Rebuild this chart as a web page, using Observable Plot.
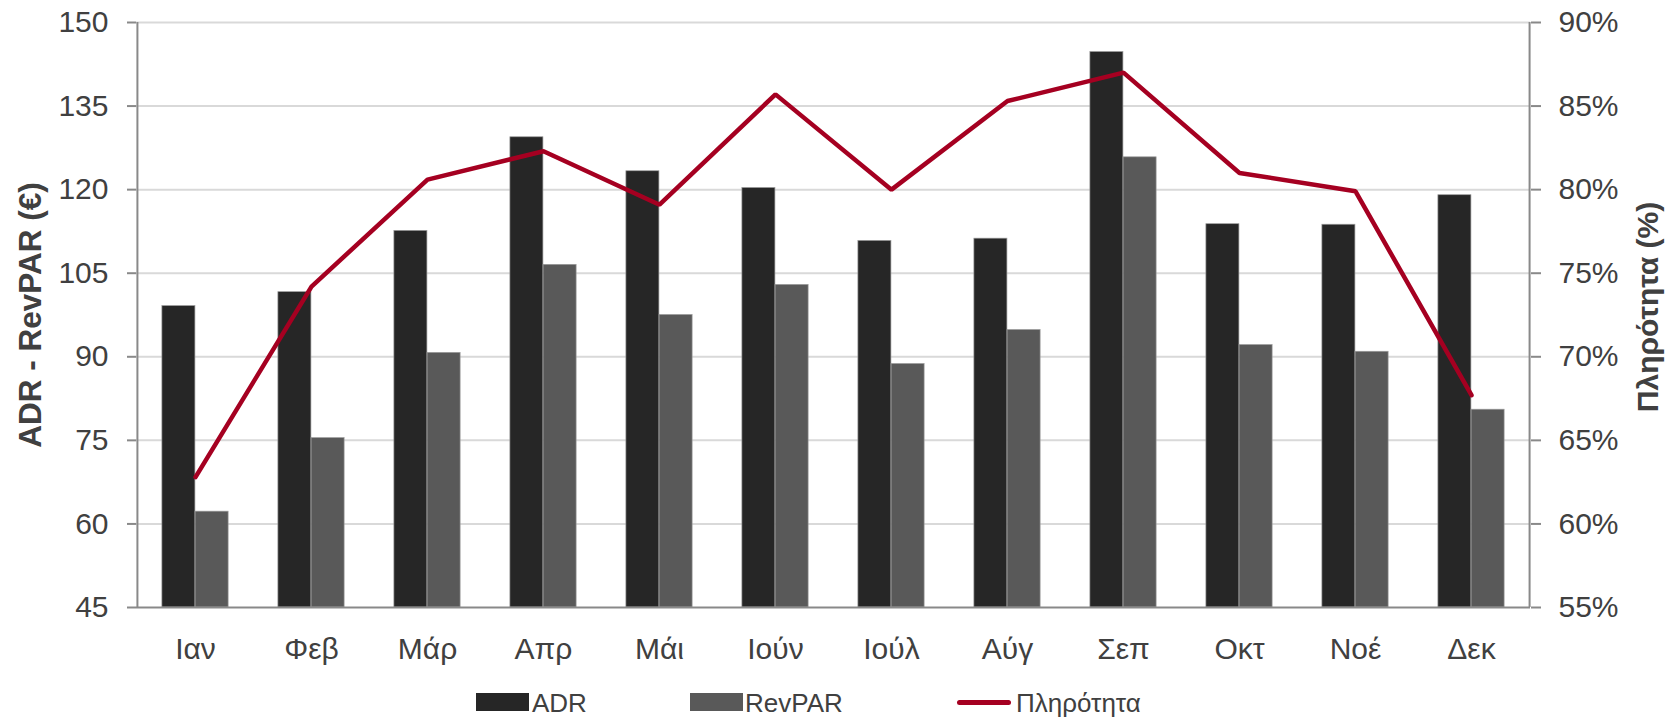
<!DOCTYPE html>
<html>
<head>
<meta charset="utf-8">
<script src="https://cdn.jsdelivr.net/npm/d3@7"></script>
<script src="https://cdn.jsdelivr.net/npm/@observablehq/plot@0.6"></script>
<style>
  html, body { margin: 0; padding: 0; background: #ffffff; }
  #wrap { width: 1669px; height: 720px; position: relative; font-family: "Liberation Sans", Arial, sans-serif; }
  #legend { position: relative; width: 1669px; height: 40px; }
  .sw { position: absolute; }
  .lt { position: absolute; font-size: 26px; line-height: 26px; color: #404040; white-space: nowrap; }
</style>
</head>
<body>
<div id="wrap">
  <div id="chart"></div>
  <div id="legend"></div>
</div>
<script>
// ---- data ----
const months = ["Ιαν","Φεβ","Μάρ","Απρ","Μάι","Ιούν","Ιούλ","Αύγ","Σεπ","Οκτ","Νοέ","Δεκ"];
const adr = [99.1, 101.6, 112.6, 129.4, 123.3, 120.3, 110.8, 111.2, 144.7, 113.8, 113.7, 119.0];
const revpar = [62.2, 75.4, 90.7, 106.5, 97.5, 102.9, 88.7, 94.8, 125.8, 92.1, 90.9, 80.5];
const occupancy = [62.8, 74.2, 80.6, 82.3, 79.1, 85.7, 80.0, 85.3, 87.0, 81.0, 79.9, 67.7];
const leftTicks = [45, 60, 75, 90, 105, 120, 135, 150];
const rightTicks = [55, 60, 65, 70, 75, 80, 85, 90];
const seriesNames = ["ADR", "RevPAR", "Πληρότητα"];
const leftTitle = "ADR - RevPAR (€)";
const rightTitle = "Πληρότητα (%)";

// ---- layout / style ----
const W = 1669, H = 680, mL = 136, mR = 139, mT = 22, mB = 73;
const step = (W - mL - mR) / months.length;
const barW = step / 3.5;
const cADR = "#262626", cRev = "#595959", cOcc = "#a50021";
const axisGray = "#898989", gridGray = "#d9d9d9", textCol = "#404040";

// secondary axis mapping (55%..90% -> 45..150)
const L0 = leftTicks[0], L1 = leftTicks[leftTicks.length - 1];
const R0 = rightTicks[0], R1 = rightTicks[rightTicks.length - 1];
const toLeft = v => L0 + (v - R0) * (L1 - L0) / (R1 - R0);
const toRight = v => R0 + (v - L0) * (R1 - R0) / (L1 - L0);

const rows = months.map((m, i) => ({month: m, adr: adr[i], revpar: revpar[i], occ: occupancy[i]}));

const chart = Plot.plot({
  width: W, height: H,
  marginLeft: mL, marginRight: mR, marginTop: mT, marginBottom: mB,
  x: {domain: months, padding: 0},
  y: {domain: [L0, L1]},
  style: {fontFamily: "Liberation Sans, Arial, sans-serif", fontSize: "30px", color: textCol, background: "#ffffff"},
  marks: [
    Plot.ruleY(leftTicks.slice(1), {stroke: gridGray, strokeWidth: 2}),
    Plot.barY(rows, {x: "month", y1: L0, y2: "adr", fill: cADR, stroke: "#9a9a9a", strokeWidth: 0.7,
      insetLeft: step / 2 - barW, insetRight: step / 2}),
    Plot.barY(rows, {x: "month", y1: L0, y2: "revpar", fill: cRev, stroke: "#9a9a9a", strokeWidth: 0.7,
      insetLeft: step / 2, insetRight: step / 2 - barW}),
    Plot.ruleY([L0], {stroke: axisGray, strokeWidth: 2}),
    Plot.ruleX([months[0]], {stroke: axisGray, strokeWidth: 2, dx: -step / 2}),
    Plot.ruleX([months[months.length - 1]], {stroke: axisGray, strokeWidth: 2, dx: step / 2}),
    Plot.lineY(rows, {x: "month", y: d => toLeft(d.occ), stroke: cOcc, strokeWidth: 4.5,
      strokeLinecap: "round", strokeLinejoin: "miter"}),
    Plot.axisY(leftTicks, {anchor: "left", tickSize: 9, tickPadding: 19, stroke: axisGray, strokeWidth: 2,
      fill: textCol, label: null, tickFormat: d => String(d)}),
    Plot.axisY(rightTicks.map(toLeft), {anchor: "right", tickSize: 10, tickPadding: 18, stroke: axisGray, strokeWidth: 2,
      fill: textCol, label: null, tickFormat: d => Math.round(toRight(d)) + "%"}),
    Plot.axisX({tickSize: 0, tickPadding: 30, fill: textCol, label: null}),
    Plot.text([leftTitle], {frameAnchor: "left", rotate: -90, dx: -106, textAnchor: "middle", lineAnchor: "middle",
      fontWeight: "bold", fontSize: 31.5, fill: textCol}),
    Plot.text([rightTitle], {frameAnchor: "right", rotate: -90, dx: 118, dy: -8, textAnchor: "middle", lineAnchor: "middle",
      fontWeight: "bold", fontSize: 30, fill: textCol})
  ]
});
document.getElementById("chart").appendChild(chart);

// ---- legend ----
const legend = document.getElementById("legend");
const items = [
  {name: seriesNames[0], kind: "box", color: cADR, sx: 476, tx: 532},
  {name: seriesNames[1], kind: "box", color: cRev, sx: 690, tx: 745},
  {name: seriesNames[2], kind: "line", color: cOcc, sx: 957, tx: 1016}
];
for (const it of items) {
  const sw = document.createElement("div");
  sw.className = "sw";
  if (it.kind === "box") {
    Object.assign(sw.style, {left: it.sx + "px", top: "13px", width: "53px", height: "18px", background: it.color});
  } else {
    Object.assign(sw.style, {left: it.sx + "px", top: "20px", width: "54px", height: "4.5px", background: it.color, borderRadius: "3px"});
  }
  legend.appendChild(sw);
  const t = document.createElement("div");
  t.className = "lt";
  t.textContent = it.name;
  Object.assign(t.style, {left: it.tx + "px", top: "10px"});
  legend.appendChild(t);
}
</script>
</body>
</html>
